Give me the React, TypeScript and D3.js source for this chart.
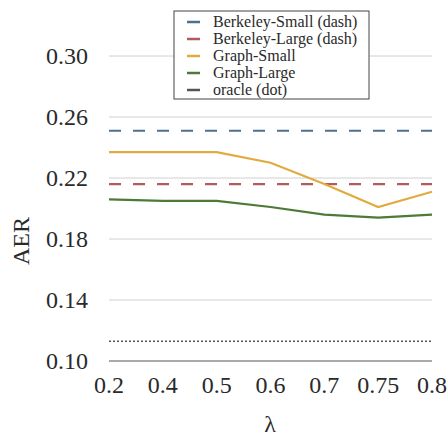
import React, { useEffect, useRef } from 'react';
import * as d3 from 'd3';

const lambdas = ['0.2', '0.4', '0.5', '0.6', '0.7', '0.75', '0.8'];
const berkeleySmall = [0.251, 0.251, 0.251, 0.251, 0.251, 0.251, 0.251];
const berkeleyLarge = [0.216, 0.216, 0.216, 0.216, 0.216, 0.216, 0.216];
const graphSmall = [0.237, 0.237, 0.237, 0.23, 0.216, 0.201, 0.211];
const graphLarge = [0.206, 0.205, 0.205, 0.201, 0.196, 0.194, 0.196];
const oracle = [0.113, 0.113, 0.113, 0.113, 0.113, 0.113, 0.113];
const yTicks = [0.1, 0.14, 0.18, 0.22, 0.26, 0.3];

const seriesNames = ['Berkeley-Small (dash)', 'Berkeley-Large (dash)', 'Graph-Small', 'Graph-Large', 'oracle (dot)'];
const seriesValues = [berkeleySmall, berkeleyLarge, graphSmall, graphLarge, oracle];
const colors = ['#4f6f8f', '#b05c5c', '#e2ab3f', '#4e7a38', '#555555'];
const dashes = ['12,12', '12,12', null, null, '2,2'];

const W = 448;
const H = 441;
const FONT = 'Liberation Serif, Times New Roman, serif';
const TEXT = '#2a2a2a';

export default function App() {
  const ref = useRef<SVGSVGElement>(null);

  useEffect(() => {
    const svg = d3.select(ref.current);
    svg.selectAll('*').remove();

    const left = 109;
    const right = 432;
    const x = d3.scalePoint().domain(lambdas).range([left, right]);
    const y = d3.scaleLinear().domain([0.1, 0.3]).range([361, 56]);

    // gridlines
    svg
      .append('g')
      .selectAll('line')
      .data(yTicks)
      .enter()
      .append('line')
      .attr('x1', left)
      .attr('x2', right)
      .attr('y1', d => y(d))
      .attr('y2', d => y(d))
      .attr('stroke', d => (d === 0.1 ? '#8c8c8c' : '#d0d0d0'))
      .attr('stroke-width', d => (d === 0.1 ? 1.3 : 1));

    // y tick labels
    svg
      .append('g')
      .selectAll('text')
      .data(yTicks)
      .enter()
      .append('text')
      .attr('x', 88)
      .attr('y', d => y(d))
      .attr('dy', '0.35em')
      .attr('text-anchor', 'end')
      .attr('font-family', FONT)
      .attr('font-size', 24)
      .attr('fill', TEXT)
      .text(d => d.toFixed(2));

    // x tick labels
    svg
      .append('g')
      .selectAll('text')
      .data(lambdas)
      .enter()
      .append('text')
      .attr('x', d => x(d)!)
      .attr('y', 393)
      .attr('text-anchor', 'middle')
      .attr('font-family', FONT)
      .attr('font-size', 24)
      .attr('fill', TEXT)
      .text(d => d);

    // axis titles
    svg
      .append('text')
      .attr('transform', 'translate(29, 241) rotate(-90)')
      .attr('text-anchor', 'middle')
      .attr('font-family', FONT)
      .attr('font-size', 24)
      .attr('fill', TEXT)
      .text('AER');

    svg
      .append('text')
      .attr('x', 270)
      .attr('y', 432)
      .attr('text-anchor', 'middle')
      .attr('font-family', FONT)
      .attr('font-size', 24)
      .attr('fill', TEXT)
      .text('λ');

    // lines
    const line = d3
      .line<number>()
      .x((d, i) => x(lambdas[i])!)
      .y(d => y(d));

    seriesValues.forEach((vals, i) => {
      svg
        .append('path')
        .datum(vals)
        .attr('d', line)
        .attr('fill', 'none')
        .attr('stroke', colors[i])
        .attr('stroke-width', i === 4 ? 1.5 : 2.2)
        .attr('stroke-dasharray', dashes[i]);
    });

    // legend
    const lg = svg.append('g').attr('transform', 'translate(174, 11)');
    lg.append('rect')
      .attr('width', 195)
      .attr('height', 88)
      .attr('fill', '#fff')
      .attr('stroke', '#444')
      .attr('stroke-width', 1);
    seriesNames.forEach((name, i) => {
      const cy = 11 + i * 17;
      lg.append('line')
        .attr('x1', 13)
        .attr('x2', 26)
        .attr('y1', cy)
        .attr('y2', cy)
        .attr('stroke', colors[i])
        .attr('stroke-width', 2.5);
      lg.append('text')
        .attr('x', 39)
        .attr('y', cy)
        .attr('dy', '0.33em')
        .attr('font-family', FONT)
        .attr('font-size', 16)
        .attr('fill', TEXT)
        .text(name);
    });
  }, []);

  return (
    <svg
      ref={ref}
      width={W}
      height={H}
      style={{ position: 'absolute', left: 0, top: 0, background: '#fff' }}
    />
  );
}
